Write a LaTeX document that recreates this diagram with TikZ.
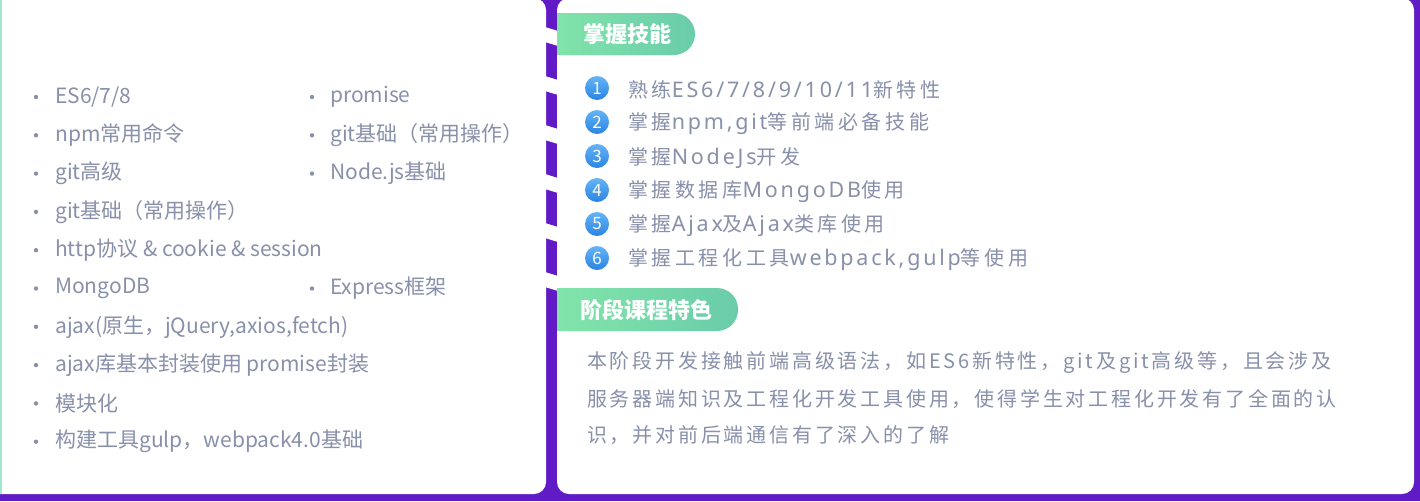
\documentclass[tikz,border=0pt]{standalone}
\usepackage{fontspec}
\setmainfont{Noto Sans CJK SC}
\newfontfamily\spacedfont[LetterSpace=18]{Noto Sans CJK SC}
\newfontfamily\parafont[LetterSpace=14]{Noto Sans CJK SC}
\newfontfamily\latfont[LetterSpace=13]{Noto Sans}
\newcommand{\lat}[1]{{\latfont\fontsize{21.5}{21.5}\selectfont #1}}
\definecolor{bgpurple}{RGB}{96,27,198}
\definecolor{mintline}{RGB}{160,230,208}
\definecolor{txtgray}{RGB}{136,144,170}
\definecolor{pillleft}{RGB}{134,234,170}
\definecolor{pillright}{RGB}{106,204,170}
\definecolor{dottop}{RGB}{100,180,246}
\definecolor{dotbottom}{RGB}{44,132,226}
\tikzset{
  leftitem/.style={anchor=west, inner sep=0pt, text=txtgray, font=\fontsize{21}{21}\selectfont},
  rightitem/.style={anchor=west, inner sep=0pt, text=txtgray, font=\spacedfont\fontsize{20}{20}\selectfont},
  paraline/.style={anchor=west, inner sep=0pt, text=txtgray, font=\parafont\fontsize{20}{20}\selectfont},
  pilltext/.style={inner sep=0pt, text=white, font=\bfseries\fontsize{22}{22}\selectfont},
  numdot/.style={circle, inner sep=0pt, minimum size=24, top color=dottop, bottom color=dotbottom, text=white, font=\fontsize{17}{17}\selectfont}
}
\begin{document}
\begin{tikzpicture}[x=1pt,y=-1pt]
\useasboundingbox (0,0) rectangle (1420,501);
\fill [bgpurple] (0,0) rectangle (1420,501);
\fill [white,rounded corners=12] (-30,-2) rectangle (546,494);
\fill [white,rounded corners=12] (557,-2) rectangle (1414,494);
\fill [mintline] (0,0) rectangle (2,494);
\foreach \y in {27,76,125,174,223,272}
	\fill [white] (545,\y) -- (558,\y+4) -- (558,\y+19) -- (545,\y+15) -- cycle;

\begin{scope}
	\clip (557,0) rectangle (1420,501);
	\shade [left color=pillleft,right color=pillright,rounded corners=21] (520,13) rectangle (695,55);
	\shade [left color=pillleft,right color=pillright,rounded corners=21] (520,288) rectangle (738,331);
\end{scope}
\node [pilltext] (skills) at (627,34) {掌握技能};
\node [pilltext] (feature) at (646,310) {阶段课程特色};

\foreach \i / \t in {0/{ES6/7/8},1/npm常用命令,2/git高级,3/git基础（常用操作）,4/http协议 \& cookie \& session,5/MongoDB,6/{ajax(原生，jQuery,axios,fetch)},7/ajax库基本封装使用 promise封装,8/模块化,9/构建工具gulp，webpack4.0基础}
{
	\fill [txtgray] (36,97+38.3*\i) circle (2.2);
	\node [leftitem] (la\i) at (55,97+38.3*\i) {\t};
}
\foreach \i / \t in {0/promise,1/git基础（常用操作）,2/Node.js基础,5/Express框架}
{
	\fill [txtgray] (312,97+38.3*\i) circle (2.2);
	\node [leftitem] (lb\i) at (330,97+38.3*\i) {\t};
}

\foreach \i / \t in {1/{熟练\lat{ES6/7/8/9/10/11}新特性},2/{掌握\lat{npm,git}等前端必备技能},3/{掌握\lat{NodeJs}开发},4/{掌握数据库\lat{MongoDB}使用},5/{掌握\lat{Ajax}及\lat{Ajax}类库使用},6/{掌握工程化工具\lat{webpack,gulp}等使用}}
{
	\node [numdot] (n\i) at (597,54+34*\i) {\i};
	\node [rightitem] (s\i) at (628,56+34*\i) {\t};
}

\node [paraline] (p1) at (587,363) {本阶段开发接触前端高级语法，如ES6新特性，git及git高级等，且会涉及};
\node [paraline] (p2) at (587,399) {服务器端知识及工程化开发工具使用，使得学生对工程化开发有了全面的认};
\node [paraline] (p3) at (587,435) {识，并对前后端通信有了深入的了解};
\end{tikzpicture}
\end{document}
